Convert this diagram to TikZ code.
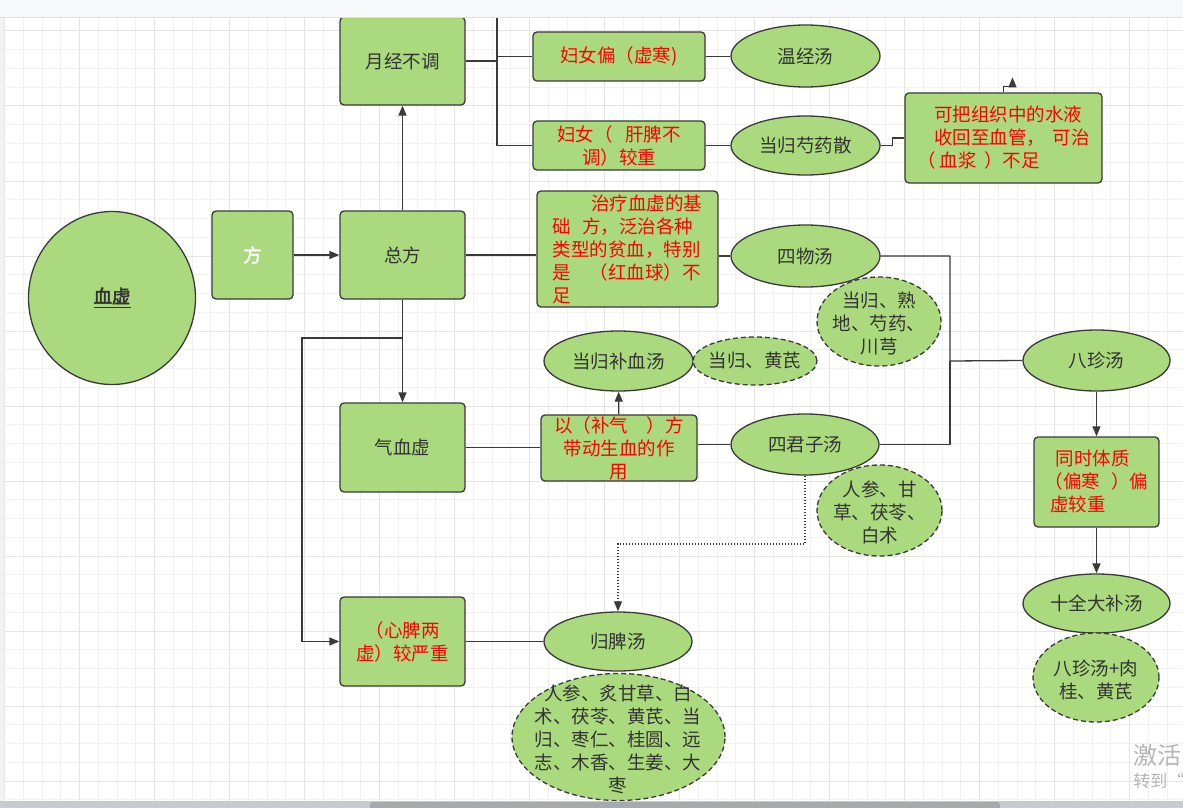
\documentclass[tikz,border=0pt]{standalone}
\usepackage{fontspec}
\setmainfont{Noto Sans CJK SC}
\newfontfamily\heavy{Noto Sans CJK SC}[FakeBold=2.5]
\usetikzlibrary{calc,shapes.geometric,arrows.meta}
\definecolor{leaf}{RGB}{170,218,125}
\definecolor{edge}{RGB}{58,58,58}
\definecolor{ink}{RGB}{51,51,51}
\definecolor{alert}{RGB}{255,0,0}
\definecolor{gridminor}{RGB}{241,241,241}
\definecolor{gridmajor}{RGB}{229,229,229}
\definecolor{barbg}{RGB}{247,248,250}
\definecolor{track}{RGB}{200,204,210}
\definecolor{thumb}{RGB}{166,169,174}
\definecolor{wmark}{RGB}{182,182,182}
\tikzset{
	base/.style={draw=edge, fill=leaf, line width=0.65pt, inner sep=0pt, text=ink, font=\fontsize{9.25}{11.5}\selectfont},
	box/.style={base, rectangle, rounded corners=2pt, align=center},
	pot/.style={base, ellipse},
	herb/.style={base, ellipse, dash pattern=on 2.5pt off 1.5pt},
	txt/.style={inner sep=0pt, text=ink, align=center, font=\fontsize{9.25}{11.5}\selectfont},
	redtxt/.style={text=alert},
	sz/.style 2 args={minimum width=#1*0.5pt, minimum height=#2*0.5pt},
	link/.style={draw=edge, line width=0.65pt},
	>={Triangle[length=5pt,width=4pt]}
}

\begin{document}
\begin{tikzpicture}[x=0.5pt, y=-0.5pt]
			%%%%% START %%%%%
			\useasboundingbox (0,0) rectangle (1183,808);
			\begin{scope}
			\clip (0,0) rectangle (1183,808);
			
			\fill[white] (0,0) rectangle (1183,808);
			\foreach \gx in {0,...,62}
				\draw[gridminor, line width=0.5pt] ({4.5+18.75*\gx},18) -- ({4.5+18.75*\gx},801);
			\foreach \gy in {1,...,42}
				\draw[gridminor, line width=0.5pt] (5,{12.25+18.75*\gy}) -- (1183,{12.25+18.75*\gy});
			\foreach \gx in {0,...,15}
				\draw[gridmajor, line width=0.5pt] ({4.5+75*\gx},18) -- ({4.5+75*\gx},801);
			\foreach \gy in {0,...,10}
				\draw[gridmajor, line width=0.5pt] (5,{31+75*\gy}) -- (1183,{31+75*\gy});
			\fill[black!5] (0,18) rectangle (4,801);
			
			% left part
			\node[pot, sz={167}{173}] (xuexu) at (112,298) {\underline{\heavy 血虚}};
			\node[box, sz={81}{88}, text=white] (fang) at (252.5,255) {\heavy 方};
			\node[box, sz={125}{88}] (zongfang) at (402.5,255) {总方};
			\node[box, sz={125}{88}] (yuejing) at (402.5,61) {月经不调};
			\node[box, sz={125}{89}] (qixue) at (402.5,447.5) {气血虚};
			\node[box, sz={125}{89}, redtxt] (xinpi) at (402.5,641.5) {（心脾两\\虚）较严重};
			
			% middle column
			\node[box, sz={172}{49}, redtxt] (fuyu1) at (619,56.5) {妇女偏（虚寒)};
			\node[box, sz={172}{49}, redtxt] (fuyu2) at (619,145.5) {妇女（\hspace{0.7em}肝脾不\\调）较重};
			\node[box, sz={181}{116}, redtxt, align=left] (jichu) at (627.5,249) {\hspace*{2.1em}治疗血虚的基\\础\hspace{0.6em}方，泛治各种\\类型的贫血，特别\\是\hspace{1em}（红血球）不\\足};
			\node[pot, sz={149}{60}] (buxue) at (618.5,361) {当归补血汤};
			\node[box, sz={156}{66}, redtxt] (buqi) at (619,448) {以（补气\hspace{1em}）方\\带动生血的作\\用};
			\node[pot, sz={148}{59}] (guipi) at (618,641.5) {归脾汤};
			
			% soups
			\node[pot, sz={149}{62}] (wenjing) at (805.5,56) {温经汤};
			\node[pot, sz={149}{59}] (danggui) at (805.5,145.5) {当归芍药散};
			\node[box, sz={197}{90}, redtxt, align=left] (shuiye) at (1003.5,138) {\hspace*{0.9em}可把组织中的水液\\\hspace*{0.9em}收回至血管，\hspace{0.4em}可治\\（\hspace{0.2em}血浆\hspace{0.4em}）不足};
			\node[pot, sz={149}{62}] (siwu) at (805.5,256) {四物汤};
			\node[pot, sz={148}{61}] (sijunzi) at (805,444.5) {四君子汤};
			\node[pot, sz={147}{61}] (bazhen) at (1096.5,360.5) {八珍汤};
			\node[box, sz={125}{90}, redtxt, align=left] (tongshi) at (1096.5,482) {\hspace*{0.6em}同时体质\\（偏寒\hspace{0.6em}）偏\\\hspace*{0.3em}虚较重};
			\node[pot, sz={147}{59}] (shiquan) at (1096.5,603.5) {十全大补汤};
			
			% herbs
			\node[herb, sz={124}{89}] (siwuyao) at (879,321.5) {};
			\node[txt] (siwuyaot) at (879,323) {当归、熟\\地、芍药、\\川芎};
			\node[herb, sz={124}{48}] (buxueyao) at (755,361) {};
			\node[txt] (buxueyaot) at (755,361) {当归、黄芪};
			\node[herb, sz={125}{91}] (sijunziyao) at (879.5,510.5) {};
			\node[txt] (sijunziyaot) at (879.5,512) {人参、甘\\草、茯苓、\\白术};
			\node[herb, sz={126}{89}] (shiquanyao) at (1096,677.5) {};
			\node[txt] (shiquanyaot) at (1096,680) {八珍汤+肉\\桂、黄芪};
			\node[herb, sz={213}{127}] (guipiyao) at (618.5,737) {};
			\node[txt] (guipiyaot) at (618,739) {人参、炙甘草、白\\术、茯苓、黄芪、当\\归、枣仁、桂圆、远\\志、木香、生姜、大\\枣};
			
			% connectors
			\coordinate (fork) at (497,61);
			\coordinate (forktop) at (497,10);
			\coordinate (merge) at (950,361);
			\coordinate (detour) at (302,338);
			\coordinate (hop) at (618,544);
			\coordinate (stub) at ($(shuiye.north)+(9,-15)$);
			
			\draw[link,->] (fang) -- (zongfang);
			\draw[link,->] (zongfang) -- (yuejing);
			\draw[link] (yuejing.east) -- (fork);
			\draw[link] (forktop) |- (fuyu2.west);
			\draw[link] (fork |- fuyu1.west) -- (fuyu1.west);
			\draw[link] (fuyu1.east) -- (fuyu1.east -| wenjing.west);
			\draw[link] (fuyu2.east) -- (fuyu2.east -| danggui.west);
			\draw[link] (danggui.east) -- ++(12,0) |- (shuiye.west);
			\draw[link,->] (shuiye.north) -- ++(0,-6) -| (stub);
			\draw[link] (zongfang.east) -- (zongfang.east -| jichu.west);
			\draw[link] (jichu.east |- siwu.west) -- (siwu.west);
			\draw[link] (siwu.east) -| (merge) -- (bazhen.west);
			\draw[link] (sijunzi.east) -| (merge);
			\draw[link,->] (bazhen) -- (tongshi);
			\draw[link,->] (tongshi) -- (shiquan);
			\draw[link,->] (zongfang) -- (qixue);
			\draw[link,->] (zongfang.south) |- (detour) |- (xinpi.west);
			\draw[link] (qixue.east) -- (qixue.east -| buqi.west);
			\draw[link] (buqi.east |- sijunzi.west) -- (sijunzi.west);
			\draw[link,->] (buqi) -- (buxue);
			\draw[link] (xinpi.east) -- (xinpi.east -| guipi.west);
			\draw[link,->, dash pattern=on 0.6pt off 0.9pt] (sijunzi.south) |- (hop) -- (guipi.north);
			
			% window frame
			\fill[barbg] (0,0) rectangle (1183,18);
			\draw[black!12, line width=0.5pt] (0,18) -- (1183,18);
			\fill[track] (0,801) rectangle (1183,808);
			\fill[thumb, rounded corners=1.5pt] (370,802) rectangle (1000,810);
			\node[anchor=west, inner sep=0pt, text=wmark, font=\fontsize{12}{12}\selectfont] (wm1) at (1133,755) {激活};
			\node[anchor=west, inner sep=0pt, text=wmark, font=\fontsize{8.5}{8.5}\selectfont] (wm2) at (1133,781) {转到“};
			\end{scope}
			
			%%%%% END %%%%%
\end{tikzpicture}
\end{document}
